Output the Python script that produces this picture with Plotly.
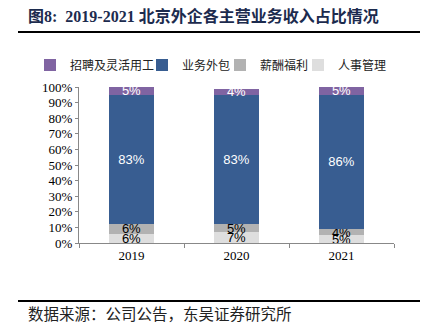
import plotly.graph_objects as go

years = ["2019", "2020", "2021"]
hr_mgmt = [6, 7, 5]        # 人事管理
payroll = [6, 5, 4]        # 薪酬福利
outsourcing = [83, 83, 86] # 业务外包
recruit = [5, 4, 5]        # 招聘及灵活用工

L, R, T, B = 79, 394, 87, 243
W, H = 430, 329
pw = R - L
ph = B - T

def px_x(x):
    return (x - L) / pw

def px_y(y):
    return (B - y) / ph

# name, values, colour, label colour, legend id, legend box left (px)
series = [
    ("人事管理", hr_mgmt, "#dedede", "black", "legend4", 298),
    ("薪酬福利", payroll, "#b2b2b2", "black", "legend3", 220),
    ("业务外包", outsourcing, "#385d91", "white", "legend2", 142),
    ("招聘及灵活用工", recruit, "#8064a2", "white", "legend", 30),
]

fig = go.Figure()
legends = {}
for name, vals, color, tcol, lg, lx in series:
    fig.add_trace(go.Bar(
        x=years, y=[v / 100 for v in vals], name=name, legend=lg,
        marker=dict(color=color, line=dict(width=0)),
        text=[f"{v}%" for v in vals], textposition="inside",
        insidetextanchor="middle", constraintext="none",
        textfont=dict(family="Liberation Sans, Arial", size=13, color=tcol),
        width=0.42, hoverinfo="skip",
    ))
    legends[lg] = dict(orientation="h", xref="container", yref="container",
                       x=lx / W, y=1 - 65 / H,
                       xanchor="left", yanchor="middle", bgcolor="rgba(0,0,0,0)",
                       font=dict(family="Noto Sans CJK SC", size=12, color="#222"),
                       itemwidth=30)

fig.update_layout(
    width=W, height=H, barmode="stack",
    margin=dict(l=L, r=W - R, t=T, b=H - B, autoexpand=False),
    paper_bgcolor="white", plot_bgcolor="white",
    showlegend=True,
    xaxis=dict(type="category", showline=True, linecolor="#888", linewidth=1,
               ticks="outside", ticklen=4, tickcolor="#888", tickson="boundaries",
               tickfont=dict(family="Liberation Serif", size=13, color="black"),
               showgrid=False, fixedrange=True),
    yaxis=dict(range=[0, 1], dtick=0.1, tickformat=".0%", showline=True,
               linecolor="#888", linewidth=1, ticks="outside", ticklen=3,
               tickcolor="#888", showgrid=False, zeroline=False,
               tickfont=dict(family="Liberation Serif", size=13, color="black"),
               fixedrange=True),
    font=dict(family="Liberation Serif, Noto Sans CJK SC"),
    **legends,
)

fig.add_annotation(text="<b>图8:  2019-2021 北京外企各主营业务收入占比情况</b>",
                   xref="paper", yref="paper", x=px_x(26), y=px_y(16),
                   xanchor="left", yanchor="middle", showarrow=False,
                   font=dict(family="Liberation Serif, Noto Sans CJK SC", size=16, color="#1c2b4e"))
fig.add_annotation(text="数据来源：公司公告，东吴证券研究所",
                   xref="paper", yref="paper", x=px_x(26), y=px_y(313),
                   xanchor="left", yanchor="middle", showarrow=False,
                   font=dict(family="Noto Sans CJK SC", size=15.5, color="#222"))
for yy in (32, 301):
    fig.add_shape(type="line", xref="paper", yref="paper",
                  x0=px_x(18), x1=px_x(420), y0=px_y(yy), y1=px_y(yy),
                  line=dict(color="black", width=2))

fig.write_html("out.html")
